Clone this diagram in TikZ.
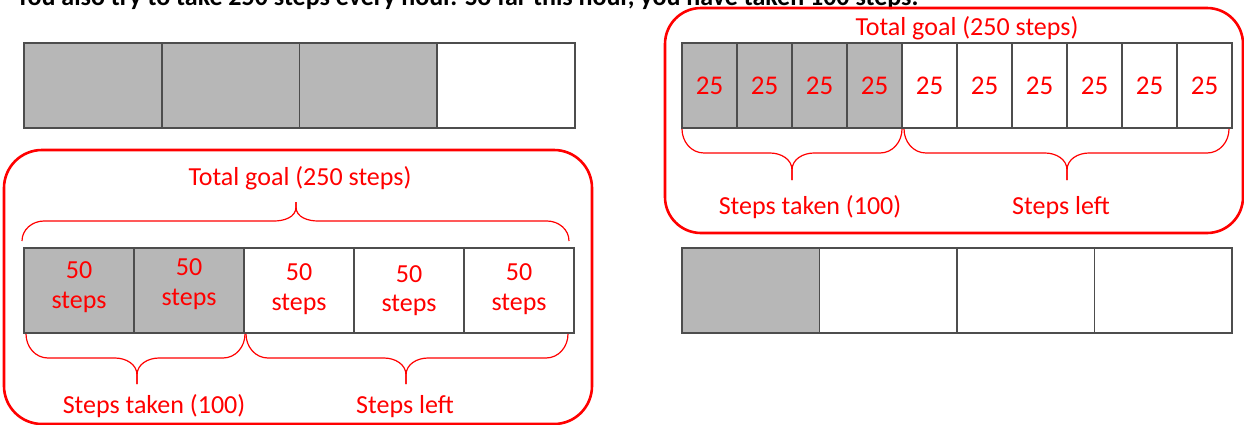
\documentclass[tikz,border=0pt]{standalone}
\usepackage{fontspec}
\setmainfont{Carlito}
\definecolor{shade}{HTML}{B7B7B7}
\definecolor{cellline}{HTML}{4D4D4D}
\definecolor{myred}{HTML}{FF0000}
\newcommand\bracebelow[6]{% x1 x2 xm y0 yh yt
  \draw[bracestyle] (#1,#4) to[out=-90,in=180] ({#1+22},#5) -- ({#3-22},#5)
    to[out=0,in=90] (#3,{#5+17}) -- (#3,#6);
  \draw[bracestyle] (#3,#6) -- (#3,{#5+17}) to[out=90,in=180] ({#3+22},#5)
    -- ({#2-22},#5) to[out=0,in=-90] (#2,#4);}
\newcommand\braceabove[6]{% x1 x2 xm y0 yh yt
  \draw[bracestyle] (#1,#4) to[out=90,in=180] ({#1+22},#5) -- ({#3-22},#5)
    to[out=0,in=-90] (#3,{#5-14}) -- (#3,#6);
  \draw[bracestyle] (#3,#6) -- (#3,{#5-14}) to[out=-90,in=180] ({#3+22},#5)
    -- ({#2-22},#5) to[out=0,in=90] (#2,#4);}
\begin{document}
\begin{tikzpicture}[x=1pt,y=-1pt,
  cellbox/.style={draw=cellline, line width=1.8pt, minimum height=85pt,
    inner sep=0pt, outer sep=0pt, anchor=north west},
  bracestyle/.style={draw=myred, line width=1.2pt},
  groupbox/.style={draw=myred, line width=2.6pt, rounded corners=38pt},
  redtxt/.style={text=myred, font=\fontsize{26}{30}\selectfont, inner sep=0pt, anchor=base},
  numtxt/.style={text=myred, font=\fontsize{27}{30}\selectfont, inner sep=0pt},
  intro/.style={text=black, font=\fontsize{26}{30}\selectfont\bfseries, inner sep=0pt, anchor=base west}]
\useasboundingbox (0,0) rectangle (1244,424);
\clip (0,0) rectangle (1244,424);
\fill[white] (0,0) rectangle (1244,424);

% intro sentence, cut off at the top
\node[intro] (introtext) at (16,5) {You also try to take 250 steps every hour. So far this hour, you have taken 100 steps.};

% top-left bar (4 parts)
\foreach \i/\f in {0/shade,1/shade,2/shade,3/white}
  \node[cellbox, fill=\f, minimum width=137.75pt] (ta\i) at ({24+137.75*\i},43) {};

% bottom-right bar (4 parts)
\foreach \i/\f in {0/shade,1/white,2/white,3/white}
  \node[cellbox, fill=\f, minimum width=137.5pt] (ba\i) at ({682+137.5*\i},248) {};

% left group
\draw[groupbox] (4,150) rectangle (592,424);
\node[redtxt] (lgoal) at (300,185) {Total goal (250 steps)};
\braceabove{22}{569}{296}{241}{221}{202}
\foreach \i/\f in {0/shade,1/shade,2/white,3/white,4/white}
  \node[cellbox, fill=\f, minimum width=110pt] (lc\i) at ({24+110*\i},248) {};
\foreach \i/\a/\b in {0/278/308,1/275/305,2/280/310,3/282/311,4/280/310}{
  \node[redtxt] (lf\i) at ({79+110*\i},\a) {50};
  \node[redtxt] (ls\i) at ({79+110*\i},\b) {steps};
}
\bracebelow{26}{245}{137}{334}{358}{384}
\bracebelow{246}{568}{406}{334}{358}{384}
\node[redtxt] (ltaken) at (154,413) {Steps taken (100)};
\node[redtxt] (lleft) at (405,413) {Steps left};

% right group
\draw[groupbox, rounded corners=36pt] (665,8) rectangle (1243,233);
\node[redtxt] (rgoal) at (967,35) {Total goal (250 steps)};
\foreach \i/\f in {0/shade,1/shade,2/shade,3/shade,4/white,5/white,6/white,7/white,8/white,9/white}{
  \node[cellbox, fill=\f, minimum width=55pt] (rc\i) at ({682+55*\i},43) {};
  \node[numtxt] (rn\i) at ({709.5+55*\i},86) {25};
}
\bracebelow{682}{902}{792}{129}{153}{180}
\bracebelow{904}{1229}{1067}{129}{153}{180}
\node[redtxt] (rtaken) at (810,214) {Steps taken (100)};
\node[redtxt] (rleft) at (1061,214) {Steps left};
\end{tikzpicture}
\end{document}
